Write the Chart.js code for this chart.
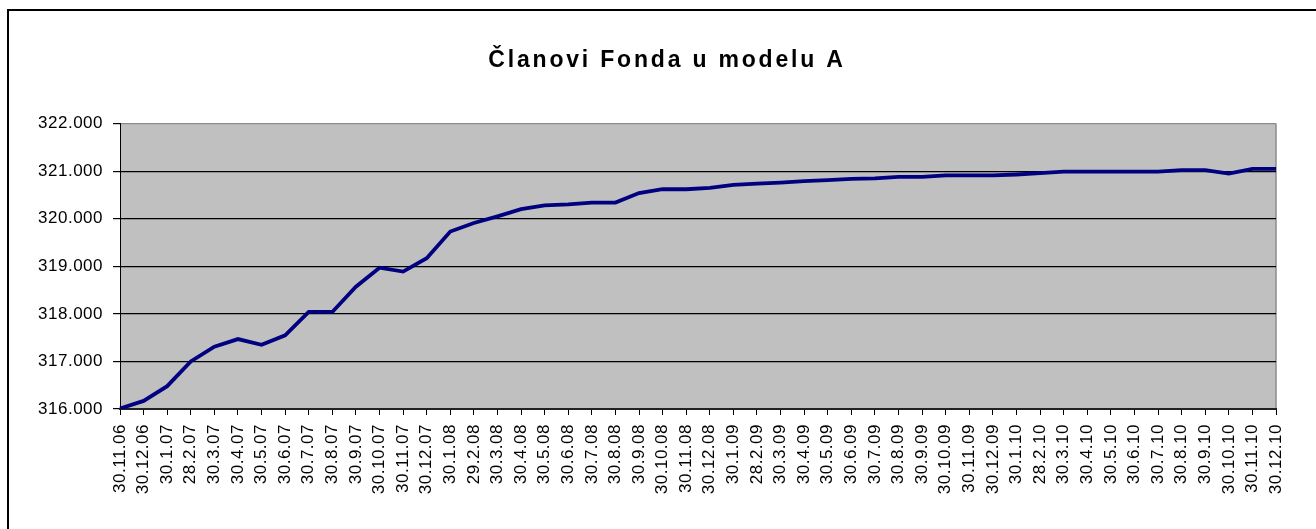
<!DOCTYPE html>
<html>
<head>
<meta charset="utf-8">
<script src="https://cdn.jsdelivr.net/npm/chart.js@4/dist/chart.umd.min.js"></script>
<style>
  html, body { margin: 0; padding: 0; background: #fff; overflow: hidden; }
  #wrap { position: relative; width: 1316px; height: 529px; overflow: hidden; }
  #frame {
    position: absolute; left: 7px; top: 9px; width: 1330px; height: 540px;
    border: 2px solid #000; box-sizing: border-box;
  }
  #chart { position: absolute; left: 0; top: 0; }
</style>
</head>
<body>
<div id="wrap">
  <div id="frame"></div>
  <canvas id="chart" width="1316" height="529"></canvas>
</div>
<script>
const title = "Članovi Fonda u modelu A";

const dates = [
  "30.11.06", "30.12.06", "30.1.07", "28.2.07", "30.3.07", "30.4.07", "30.5.07",
  "30.6.07", "30.7.07", "30.8.07", "30.9.07", "30.10.07", "30.11.07", "30.12.07",
  "30.1.08", "29.2.08", "30.3.08", "30.4.08", "30.5.08", "30.6.08", "30.7.08",
  "30.8.08", "30.9.08", "30.10.08", "30.11.08", "30.12.08", "30.1.09", "28.2.09",
  "30.3.09", "30.4.09", "30.5.09", "30.6.09", "30.7.09", "30.8.09", "30.9.09",
  "30.10.09", "30.11.09", "30.12.09", "30.1.10", "28.2.10", "30.3.10", "30.4.10",
  "30.5.10", "30.6.10", "30.7.10", "30.8.10", "30.9.10", "30.10.10", "30.11.10",
  "30.12.10"
];

const members = [
  316010, 316170, 316480, 317000, 317310, 317470, 317350,
  317550, 318040, 318040, 318570, 318970, 318890, 319170,
  319730, 319910, 320050, 320200, 320280, 320300, 320340,
  320340, 320540, 320620, 320620, 320650, 320710, 320740,
  320760, 320790, 320810, 320840, 320850, 320880, 320880,
  320910, 320910, 320910, 320930, 320960, 320990, 320990,
  320990, 320990, 320990, 321020, 321020, 320950, 321050,
  321050
];

const yMin = 316000;
const yMax = 322000;
const yStep = 1000;

function fmt(v) {
  return String(Math.round(v)).replace(/\B(?=(\d{3})+(?!\d))/g, ".");
}

// grey plot area; title gets wider letter spacing than the ticks
const plotBg = {
  id: "plotBg",
  beforeLayout(chart) {
    chart.ctx.letterSpacing = "0.5px";
  },
  beforeDraw(chart) {
    const { ctx, chartArea: a } = chart;
    ctx.save();
    ctx.fillStyle = "#c0c0c0";
    ctx.fillRect(a.left, a.top, a.right - a.left, a.bottom - a.top);
    ctx.strokeStyle = "#8c8c8c";
    ctx.lineWidth = 1.5;
    ctx.beginPath();
    ctx.moveTo(a.right, a.top);
    ctx.lineTo(a.right, a.bottom);
    ctx.stroke();
    ctx.restore();
    ctx.letterSpacing = "2.8px";
  },
  beforeDatasetsDraw(chart) {
    chart.ctx.letterSpacing = "0.5px";
  },
};

const ctx = document.getElementById("chart").getContext("2d");

new Chart(ctx, {
  type: "line",
  data: {
    labels: dates,
    datasets: [
      {
        label: title,
        data: members,
        borderColor: "#000080",
        borderWidth: 3.8,
        pointRadius: 0,
        tension: 0,
        fill: false,
      },
    ],
  },
  options: {
    responsive: false,
    animation: false,
    layout: {
      padding: { left: 18, right: 0, top: 0, bottom: 0 },
    },
    scales: {
      x: {
        offset: false,
        afterFit: function (scale) {
          scale.height = 120;
        },
        ticks: {
          autoSkip: false,
          minRotation: 90,
          maxRotation: 90,
          padding: 9,
          color: "#000",
          z: 1,
          font: { family: "'Liberation Sans', Arial, sans-serif", size: 17 },
        },
        grid: {
          drawOnChartArea: false,
          drawTicks: true,
          tickLength: 6,
          color: "#000",
        },
        border: { color: "#222", width: 2 },
      },
      y: {
        min: yMin,
        max: yMax,
        afterFit: function (scale) {
          scale.width = 102;
        },
        ticks: {
          stepSize: yStep,
          padding: 10,
          color: "#000",
          z: 1,
          font: { family: "'Liberation Sans', Arial, sans-serif", size: 17 },
          callback: function (value) {
            return fmt(value);
          },
        },
        grid: {
          color: function (c) {
            return c.tick && c.tick.value === yMax ? "#8c8c8c" : "#000";
          },
          tickColor: "#000",
          tickLength: 7,
          lineWidth: 1.2,
        },
        border: { color: "#000", width: 1 },
      },
      // empty right margin, keeps the title centred like the original
      spacer: {
        type: "linear",
        position: "right",
        afterFit: function (scale) {
          scale.width = 40;
        },
        ticks: { display: false },
        grid: { display: false },
        border: { display: false },
      },
    },
    plugins: {
      legend: { display: false },
      tooltip: { enabled: false },
      title: {
        display: true,
        text: title,
        color: "#000",
        font: { family: "'Liberation Sans', Arial, sans-serif", size: 23, weight: "bold" },
        padding: { top: 47, bottom: 49 },
      },
    },
  },
  plugins: [plotBg],
});
</script>
</body>
</html>
